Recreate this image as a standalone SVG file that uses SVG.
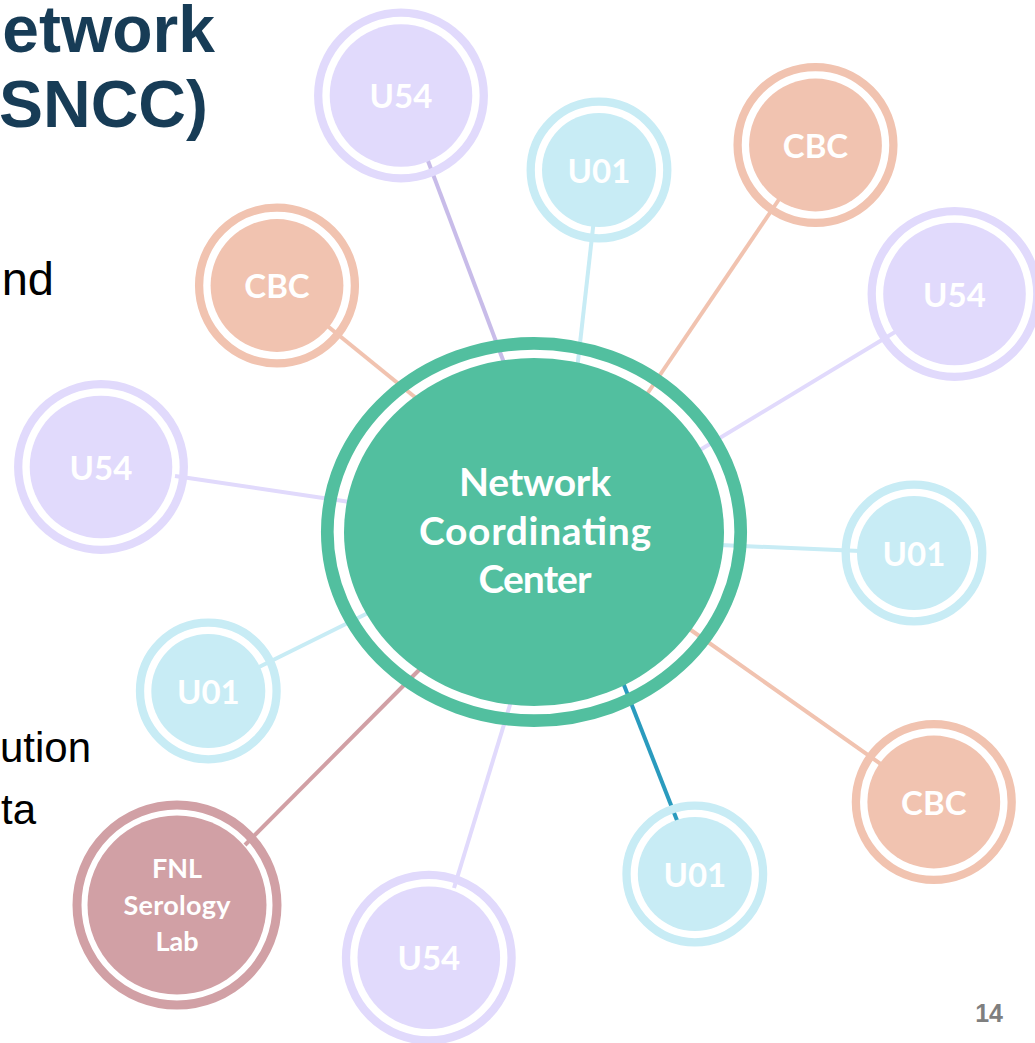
<svg xmlns="http://www.w3.org/2000/svg" width="1035" height="1043" viewBox="0 0 1035 1043">
<style>
.bg{fill:#ffffff}
.title{font-family:"Liberation Sans",Arial,sans-serif;font-weight:700;font-size:66px;fill:#173C56}
.body{font-family:"Liberation Sans",Arial,sans-serif;fill:#000000}
.pg{font-family:"Liberation Sans",Arial,sans-serif;font-weight:700;font-size:25px;fill:#7F7F7F}
.conn line{stroke-width:4;fill:none}
.lbl{font-family:Lato,"Open Sans","DejaVu Sans",sans-serif;font-weight:700;fill:#ffffff;text-anchor:middle}
.ring{fill:none}
.u54 .ring{stroke:#E1DAFC;stroke-width:8.3}
.u54 .fill{fill:#E1DAFC}
.u01 .ring{stroke:#C8ECF5;stroke-width:8.3}
.u01 .fill{fill:#C8ECF5}
.cbc .ring{stroke:#F1C3B0;stroke-width:8.3}
.cbc .fill{fill:#F1C3B0}
.fnl .ring{stroke:#D1A0A5;stroke-width:9}
.fnl .fill{fill:#D1A0A5}
.ncc .ring{stroke:#52BF9F;stroke-width:12.7}
.ncc .fill{fill:#52BF9F}
</style>
<rect class="bg" x="0" y="0" width="1035" height="1043"/>
<text class="title" x="215" y="52" text-anchor="end">etwork</text>
<text class="title" x="208" y="127" text-anchor="end">SNCC)</text>
<text class="body" x="54" y="295" font-size="47" text-anchor="end">nd</text>
<text class="body" x="91" y="762" font-size="42" text-anchor="end">ution</text>
<text class="body" x="36" y="824" font-size="42" text-anchor="end">ta</text>
<text class="pg" x="1003" y="1022" text-anchor="end">14</text>
<g id="connectors" class="conn">
<line x1="422" y1="145" x2="506" y2="368" stroke="#C8BCE9"/>
<line x1="595" y1="210" x2="577" y2="370" stroke="#C8ECF5"/>
<line x1="782" y1="195" x2="643" y2="400" stroke="#F1C3B0"/>
<line x1="905" y1="326" x2="695" y2="453" stroke="#E1DAFC"/>
<line x1="175" y1="476" x2="350" y2="502" stroke="#E1DAFC"/>
<line x1="720" y1="545" x2="860" y2="551" stroke="#C8ECF5"/>
<line x1="688" y1="628" x2="885" y2="767" stroke="#F1C3B0"/>
<line x1="622" y1="680" x2="680" y2="828" stroke="#2A9BBE" stroke-width="5"/>
<line x1="454" y1="888" x2="513" y2="695" stroke="#E1DAFC"/>
<line x1="245" y1="845" x2="424" y2="665" stroke="#D1A0A5"/>
<line x1="255" y1="669" x2="372" y2="611" stroke="#C8ECF5"/>
<line x1="325" y1="324" x2="416" y2="398" stroke="#F1C3B0"/>
</g>
<g id="ncc" class="ncc">
<ellipse class="ring" cx="534" cy="532" rx="206.7" ry="188.7"/>
<ellipse class="fill" cx="534" cy="532" rx="190" ry="174"/>
<text class="lbl" x="535" y="496" font-size="39" textLength="152">Network</text>
<text class="lbl" x="535" y="545" font-size="39" textLength="232">Coordinating</text>
<text class="lbl" x="535" y="593" font-size="39" textLength="113">Center</text>
</g>
<g id="u54-top" class="u54">
<circle class="ring" cx="401" cy="95.5" r="82.8"/>
<circle class="fill" cx="401" cy="95.5" r="71.3"/>
<text class="lbl" x="401" y="108" font-size="33">U54</text>
</g>
<g id="u01-top" class="u01">
<circle class="ring" cx="599" cy="170" r="68.3"/>
<circle class="fill" cx="599" cy="170" r="57"/>
<text class="lbl" x="599" y="182.5" font-size="33">U01</text>
</g>
<g id="cbc-topright" class="cbc">
<circle class="ring" cx="815.5" cy="145" r="77.9"/>
<circle class="fill" cx="815.5" cy="145" r="66.4"/>
<text class="lbl" x="815.5" y="157.5" font-size="33">CBC</text>
</g>
<g id="u54-right" class="u54">
<circle class="ring" cx="954.5" cy="294" r="82.8"/>
<circle class="fill" cx="954.5" cy="294" r="71.3"/>
<text class="lbl" x="954.5" y="306.5" font-size="33">U54</text>
</g>
<g id="cbc-left" class="cbc">
<circle class="ring" cx="277" cy="285.5" r="77.9"/>
<circle class="fill" cx="277" cy="285.5" r="66.4"/>
<text class="lbl" x="277" y="298" font-size="33">CBC</text>
</g>
<g id="u54-left" class="u54">
<circle class="ring" cx="101" cy="467" r="82.8"/>
<circle class="fill" cx="101" cy="467" r="71.3"/>
<text class="lbl" x="101" y="479.5" font-size="33">U54</text>
</g>
<g id="u01-right" class="u01">
<circle class="ring" cx="914" cy="553" r="68.3"/>
<circle class="fill" cx="914" cy="553" r="57"/>
<text class="lbl" x="914" y="565.5" font-size="33">U01</text>
</g>
<g id="u01-left" class="u01">
<circle class="ring" cx="208.3" cy="691" r="68.3"/>
<circle class="fill" cx="208.3" cy="691" r="57"/>
<text class="lbl" x="208.3" y="703.5" font-size="33">U01</text>
</g>
<g id="cbc-right" class="cbc">
<circle class="ring" cx="933.8" cy="802" r="77.9"/>
<circle class="fill" cx="933.8" cy="802" r="66.4"/>
<text class="lbl" x="933.8" y="814.5" font-size="33">CBC</text>
</g>
<g id="u01-bottom" class="u01">
<circle class="ring" cx="694.8" cy="874" r="68.3"/>
<circle class="fill" cx="694.8" cy="874" r="57"/>
<text class="lbl" x="694.8" y="886.5" font-size="33">U01</text>
</g>
<g id="u54-bottom" class="u54">
<circle class="ring" cx="428.8" cy="957.7" r="82.8"/>
<circle class="fill" cx="428.8" cy="957.7" r="71.3"/>
<text class="lbl" x="428.8" y="970.2" font-size="33">U54</text>
</g>
<g id="fnl" class="fnl">
<circle class="ring" cx="177" cy="905" r="100"/>
<circle class="fill" cx="177" cy="905" r="89.5"/>
<text class="lbl" x="177" y="878" font-size="27">FNL</text>
<text class="lbl" x="177" y="915" font-size="27" textLength="107">Serology</text>
<text class="lbl" x="177" y="951" font-size="27">Lab</text>
</g>
</svg>
